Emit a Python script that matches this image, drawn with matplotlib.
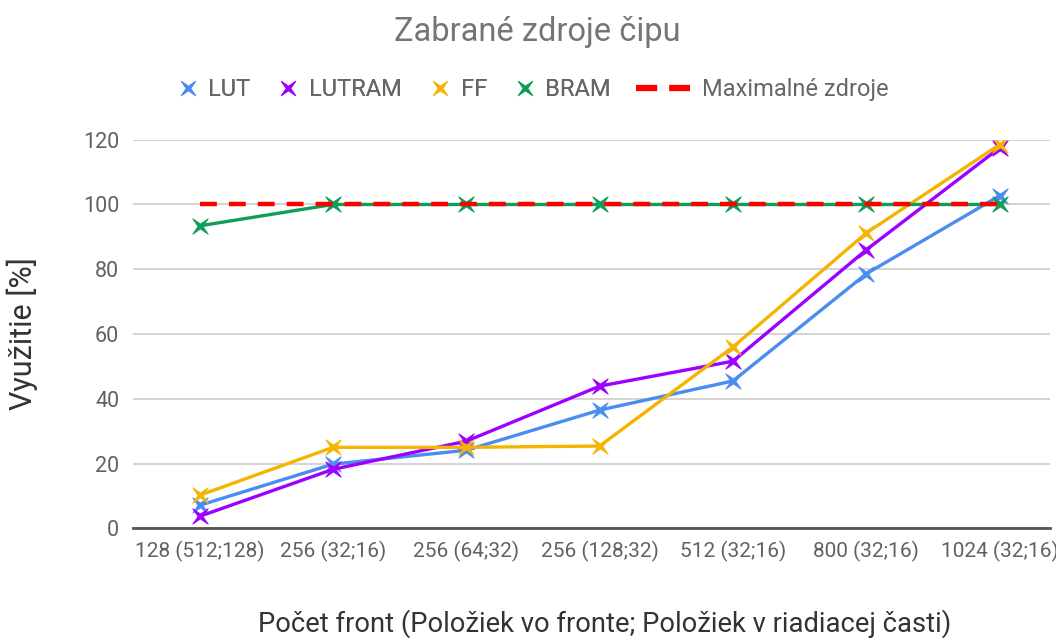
import matplotlib
matplotlib.use("Agg")
import numpy as np
import matplotlib.pyplot as plt
from matplotlib.lines import Line2D
from matplotlib.path import Path

plt.rcParams['font.family'] = ['Roboto', 'DejaVu Sans']

categories = ["128 (512;128)", "256 (32;16)", "256 (64;32)", "256 (128;32)",
              "512 (32;16)", "800 (32;16)", "1024 (32;16)"]
lut = [7.1, 19.8, 24.1, 36.5, 45.5, 78.6, 102.7]
lutram = [3.7, 18.2, 26.9, 43.9, 51.6, 86.0, 117.5]
ff = [10.2, 25.0, 25.0, 25.4, 56.0, 91.2, 118.5]
bram = [93.4, 100, 100, 100, 100, 100, 100]
max_res = [100, 100, 100, 100, 100, 100, 100]

colors = {"LUT": "#4a8cf0", "LUTRAM": "#9d00ff", "FF": "#f4b400", "BRAM": "#0f9d58", "MAX": "#ff0000"}

# thin four-pointed star ("x"-like) marker
verts = []
for k in range(8):
    ang = np.deg2rad(45 + k * 45)
    r = 1.0 if k % 2 == 0 else 0.22
    verts.append((r * np.cos(ang), r * np.sin(ang)))
verts.append(verts[0])
codes = [Path.MOVETO] + [Path.LINETO] * 7 + [Path.CLOSEPOLY]
star = Path(verts, codes)

fig = plt.figure(figsize=(10.56, 6.38), dpi=100)
ax = fig.add_axes([0.126, 0.172, 0.868, 0.609])
x = list(range(len(categories)))

mk = dict(marker=star, markersize=11, markeredgewidth=0.7, linewidth=2.4)
ax.plot(x, lut, color=colors["LUT"], label="LUT", zorder=3, **mk)
ax.plot(x, lutram, color=colors["LUTRAM"], label="LUTRAM", zorder=3, **mk)
ax.plot(x, ff, color=colors["FF"], label="FF", zorder=3, **mk)
ax.plot(x, bram, color=colors["BRAM"], label="BRAM", zorder=3, **mk)
ax.plot(x, max_res, color=colors["MAX"], linestyle=(0, (3.8, 2.7)), linewidth=3.2,
        label="Maximalné zdroje", zorder=4)

ax.set_xlim(-0.5, 6.375)
ax.set_ylim(0, 120)
ax.set_yticks(range(0, 121, 20))
ax.set_xticks(x)
ax.set_xticklabels(categories)
ax.grid(axis='y', color='#cccccc', linewidth=1.2)
ax.set_axisbelow(True)
for s in ['top', 'right', 'left']:
    ax.spines[s].set_visible(False)
ax.spines['bottom'].set_color('#555555')
ax.spines['bottom'].set_linewidth(2)
ax.tick_params(axis='both', length=0, colors='#616161')
ax.tick_params(axis='x', labelsize=15, pad=9)
ax.tick_params(axis='y', labelsize=15.5, pad=10)

ax.set_ylabel("Využitie [%]", fontsize=22, color='#333333')
ax.yaxis.label.set_va('center')
ax.yaxis.set_label_coords(-0.121, 0.5)
ax.set_xlabel("Počet front (Položiek vo fronte; Položiek v riadiacej časti)",
              fontsize=19.7, color='#333333', labelpad=34)
ax.xaxis.label.set_x(0.515)
fig.text(0.509, 0.95, "Zabrané zdroje čipu", ha='center', va='center',
         fontsize=23.5, color='#757575')

lh = dict(marker=star, linestyle='none', markersize=10.5, markeredgewidth=0.5)
handles1 = [
    Line2D([], [], color=colors["LUT"], **lh),
    Line2D([], [], color=colors["LUTRAM"], **lh),
    Line2D([], [], color=colors["FF"], **lh),
    Line2D([], [], color=colors["BRAM"], **lh),
]
labels1 = ["LUT", "LUTRAM", "FF", "BRAM"]
leg1 = fig.legend(handles1, labels1, loc='center right', bbox_to_anchor=(611 / 1056, 0.86),
                  ncol=4, frameon=False, fontsize=17, labelcolor='#666666',
                  handlelength=1.0, handletextpad=0.38, columnspacing=1.1,
                  borderpad=0, borderaxespad=0)
fig.add_artist(leg1)
handles2 = [Line2D([], [], color=colors["MAX"], linestyle=(0, (3.4, 1.9)), linewidth=4.5)]
fig.legend(handles2, ["Maximalné zdroje"], loc='center left', bbox_to_anchor=(636 / 1056, 0.86),
           frameon=False, fontsize=17, labelcolor='#666666', handlelength=2.3,
           handletextpad=0.5, borderpad=0, borderaxespad=0)

fig.savefig("out.png", dpi=100)
